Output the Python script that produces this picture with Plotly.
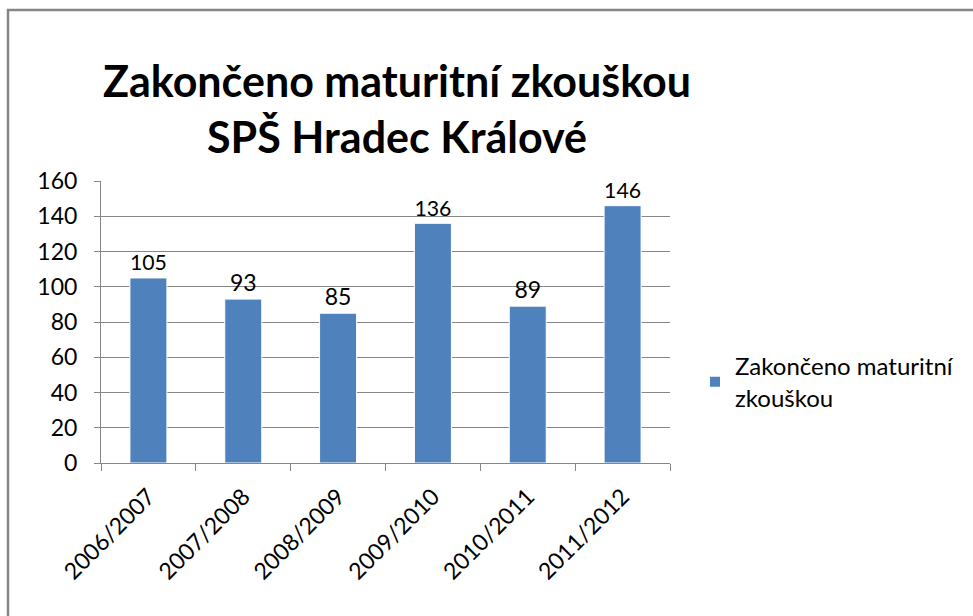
import plotly.graph_objects as go

categories = ["2006/2007", "2007/2008", "2008/2009", "2009/2010", "2010/2011", "2011/2012"]
values = [105, 93, 85, 136, 89, 146]
series_name = "Zakončeno maturitní<br>zkouškou"
title_lines = ["Zakončeno maturitní zkouškou", "SPŠ Hradec Králové"]

FONT = "Lato, Noto Sans, sans-serif"
W, H = 973, 616
L, R, T, B = 101, 303, 181, 153
PW, PH = W - L - R, H - T - B

fig = go.Figure()
fig.add_trace(go.Bar(
    x=categories, y=values, name=series_name,
    marker=dict(color="#4F81BD", line=dict(color="white", width=1)),
    width=0.39,
    text=[str(v) for v in values], textposition="outside",
    textfont=dict(size=23, color="black", family=FONT),
    cliponaxis=False,
))

fig.update_layout(
    width=W, height=H,
    margin=dict(l=L, r=R, t=T, b=B, pad=0),
    paper_bgcolor="white", plot_bgcolor="white",
    font=dict(family=FONT, color="black", size=23),
    showlegend=True,
    legend=dict(x=(695 - L) / PW, y=1 - (344 - T) / PH, xanchor="left", yanchor="top",
                font=dict(size=24, family=FONT), itemsizing="constant",
                bgcolor="rgba(0,0,0,0)"),
    xaxis=dict(showline=True, linecolor="#868686", linewidth=1,
               ticks="outside", ticklen=7, tickcolor="#868686",
               tickson="boundaries", tickangle=-45, ticklabelstandoff=10,
               tickfont=dict(size=23, family=FONT), showgrid=False),
    yaxis=dict(range=[0, 160], dtick=20, showline=True, linecolor="#868686",
               linewidth=1, ticks="outside", ticklen=6, tickcolor="#868686",
               showgrid=True, gridcolor="#868686", gridwidth=1,
               ticklabelstandoff=12,
               tickfont=dict(size=23, family=FONT), zeroline=False),
    annotations=[dict(text="<b>" + "<br>".join(title_lines) + "</b>",
                      xref="paper", yref="paper", x=(397 - L) / PW,
                      y=1 + (T - 108) / PH, xanchor="center", yanchor="middle",
                      showarrow=False, font=dict(size=43, family=FONT, color="black"))],
    shapes=[dict(type="rect", xref="paper", yref="paper",
                 x0=(8 - L) / PW, x1=(1000 - L) / PW,
                 y0=1 - (640 - T) / PH, y1=1 - (10 - T) / PH,
                 line=dict(color="#868686", width=2.5), fillcolor="rgba(0,0,0,0)", layer="below")],
)

fig.write_html("out.html", config={"displayModeBar": False},
               post_script="document.body.style.margin='0';document.body.style.overflow='hidden';")
